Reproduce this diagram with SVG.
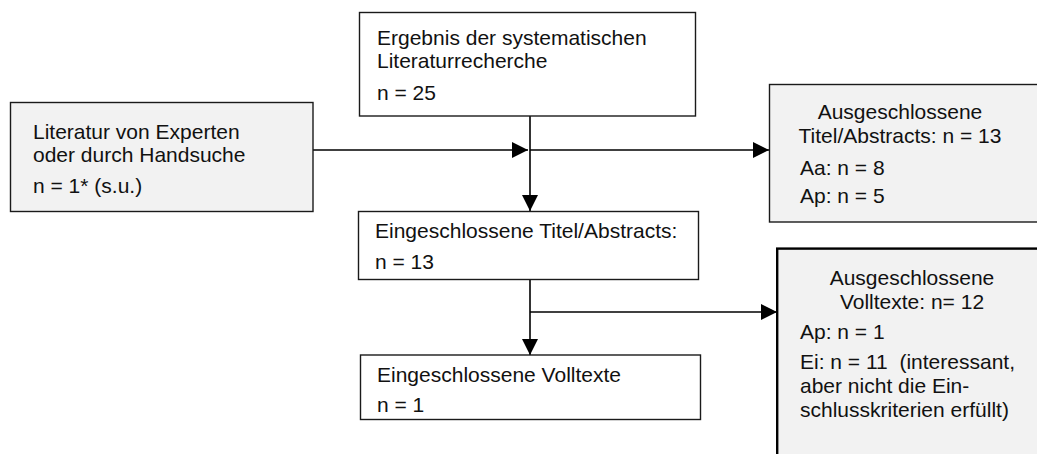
<svg xmlns="http://www.w3.org/2000/svg" width="1037" height="454" viewBox="0 0 1037 454">
<style>
.box{fill:#ffffff;stroke:#1a1a1a;stroke-width:1.4}
.gray{fill:#f2f2f2;stroke:#1a1a1a;stroke-width:1.4}
.thick{fill:#f2f2f2;stroke:#000;stroke-width:2.4}
text{font-family:"Liberation Sans",Arial,sans-serif;font-size:21px;fill:#111}
.c{text-anchor:middle}
.edge{stroke:#000;stroke-width:1.6;fill:none}
</style>
<defs>
<marker id="ah" markerUnits="userSpaceOnUse" markerWidth="17" markerHeight="17" viewBox="0 0 17 17" refX="16" refY="8.5" orient="auto">
<path d="M0,0.5 L16,8.5 L0,16.5 Z" fill="#000"/>
</marker>
</defs>
<g id="connectors">
<line class="edge" x1="313" y1="150" x2="528" y2="150" marker-end="url(#ah)"/>
<line class="edge" x1="530" y1="150" x2="769" y2="150" marker-end="url(#ah)"/>
<line class="edge" x1="530" y1="116" x2="530" y2="211" marker-end="url(#ah)"/>
<line class="edge" x1="530" y1="280" x2="530" y2="355" marker-end="url(#ah)"/>
<line class="edge" x1="530" y1="312" x2="777" y2="312" marker-end="url(#ah)"/>
</g>
<g id="n_top">
<rect class="box" x="359.5" y="12.5" width="336" height="103.5"/>
<text x="377" y="45">Ergebnis der systematischen</text>
<text x="377" y="68">Literaturrecherche</text>
<text x="377" y="100">n = 25</text>
</g>
<g id="n_left">
<rect class="gray" x="10.5" y="102.5" width="302.5" height="109"/>
<text x="33" y="139">Literatur von Experten</text>
<text x="33" y="162">oder durch Handsuche</text>
<text x="33" y="193">n = 1* (s.u.)</text>
</g>
<g id="n_incl_ta">
<rect class="box" x="358.5" y="211.5" width="340" height="68"/>
<text x="375" y="238">Eingeschlossene Titel/Abstracts:</text>
<text x="375" y="269">n = 13</text>
</g>
<g id="n_excl_ta">
<rect class="gray" x="769.5" y="84.5" width="280" height="137.5"/>
<text class="c" x="900" y="119">Ausgeschlossene</text>
<text class="c" x="900" y="143">Titel/Abstracts: n = 13</text>
<text x="800" y="175">Aa: n = 8</text>
<text x="800" y="203">Ap: n = 5</text>
</g>
<g id="n_incl_vt">
<rect class="box" x="360.5" y="355" width="340" height="64.5"/>
<text x="377" y="382">Eingeschlossene Volltexte</text>
<text x="377" y="412">n = 1</text>
</g>
<g id="n_excl_vt">
<rect class="thick" x="777.2" y="248.6" width="280" height="230"/>
<text class="c" x="912" y="285">Ausgeschlossene</text>
<text class="c" x="912" y="309">Volltexte: n= 12</text>
<text x="800" y="339">Ap: n = 1</text>
<text x="800" y="369" xml:space="preserve">Ei: n = 11  (interessant,</text>
<text x="800" y="393">aber nicht die Ein-</text>
<text x="800" y="417">schlusskriterien erfüllt)</text>
</g>
</svg>
